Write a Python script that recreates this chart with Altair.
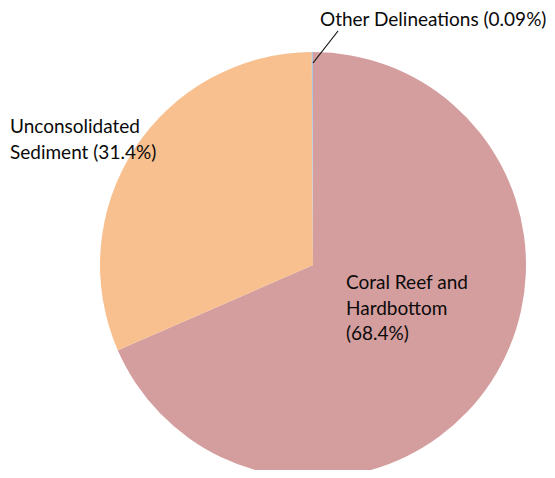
import altair as alt
import pandas as pd

categories = ["Coral Reef and Hardbottom", "Unconsolidated Sediment", "Other Delineations"]
values = [68.45, 31.46, 0.09]
colors = ["#D59E9E", "#F8C08F", "#A9C6E4"]

df = pd.DataFrame({"category": categories, "value": values, "order": [0, 1, 2]})

CX, CY, R = 305, 257, 213

pie = alt.Chart(df).mark_arc(outerRadius=R, stroke=None).encode(
    theta=alt.Theta("value:Q", stack=True),
    order=alt.Order("order:Q"),
    color=alt.Color("category:N", scale=alt.Scale(domain=categories, range=colors), legend=None),
    x=alt.value(CX),
    y=alt.value(CY),
)

label_text = ["Coral Reef and\nHardbottom\n(68.4%)", "Unconsolidated\nSediment (31.4%)", "Other Delineations (0.09%)"]
lab = pd.DataFrame({"t": label_text, "px": [338, 2, 312], "py": [281, 125, 18]})

FONT = "Lato"
texts = alt.Chart(lab).mark_text(
    align="left", baseline="alphabetic", font=FONT, fontSize=19, lineBreak="\n",
    lineHeight=25.5, color="#0a0a0a"
).encode(x=alt.X("px:Q", scale=None), y=alt.Y("py:Q", scale=None), text="t:N")

leader = alt.Chart(pd.DataFrame({"a": [0]})).mark_rule(color="#111111", strokeWidth=1.2).encode(
    x=alt.value(305), y=alt.value(55), x2=alt.value(330), y2=alt.value(23)
)

chart = alt.layer(pie, leader, texts).properties(
    width=539, height=462, autosize="none", padding=0
).configure_view(stroke=None)

chart.save("out.html", embed_options={"renderer": "svg", "actions": False})
